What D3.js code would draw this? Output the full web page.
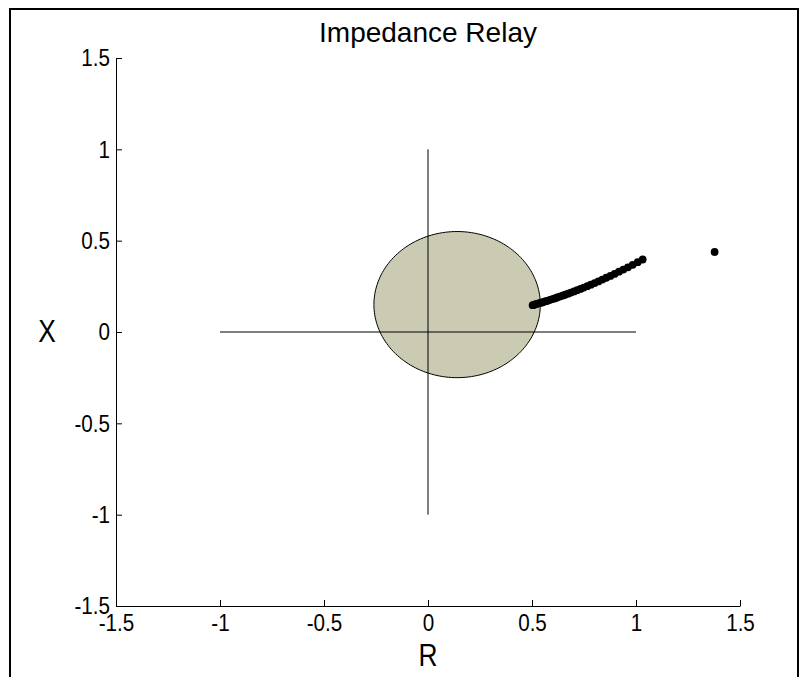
<!DOCTYPE html>
<html>
<head>
<meta charset="utf-8">
<script src="https://cdn.jsdelivr.net/npm/d3@7"></script>
<style>
  html, body { margin: 0; padding: 0; background: #fff; }
  svg { display: block; font-family: "Liberation Sans", Arial, Helvetica, sans-serif; }
</style>
</head>
<body>
<svg id="chart" width="804" height="677"></svg>
<script>
// Relay characteristic: circle centre (R, X) and radius
const relayCenter = [0.14, 0.15];
const relayRadius = 0.40;

// Apparent impedance trajectory seen by the relay
const trajR = [0.503, 0.510, 0.517, 0.524, 0.532, 0.540, 0.549, 0.558, 0.567, 0.577,
               0.587, 0.598, 0.609, 0.621, 0.633, 0.646, 0.659, 0.673, 0.687, 0.702,
               0.717, 0.733, 0.749, 0.766, 0.783, 0.801, 0.819, 0.838, 0.857, 0.877,
               0.897, 0.918, 0.939, 0.961, 0.984, 1.008, 1.032, 1.378];
const trajX = [0.147, 0.149, 0.152, 0.154, 0.157, 0.159, 0.162, 0.166, 0.169, 0.172,
               0.176, 0.180, 0.184, 0.189, 0.194, 0.199, 0.204, 0.210, 0.216, 0.222,
               0.229, 0.236, 0.243, 0.251, 0.259, 0.268, 0.277, 0.287, 0.297, 0.307,
               0.318, 0.330, 0.342, 0.354, 0.368, 0.382, 0.397, 0.438];

// Reference cross through the origin
const crossH = { r: [-1, 1], x: [0, 0] };
const crossV = { r: [0, 0], x: [-1, 1] };

const tickValues = [-1.5, -1, -0.5, 0, 0.5, 1, 1.5];
const tickLabels = ["-1.5", "-1", "-0.5", "0", "0.5", "1", "1.5"];

const svg = d3.select("#chart");

// Figure frame
svg.append("rect")
  .attr("x", 10).attr("y", 9).attr("width", 788).attr("height", 720)
  .attr("fill", "none").attr("stroke", "#000").attr("stroke-width", 2);

const plotL = 116, plotR = 740, plotT = 58, plotB = 606;
const xS = d3.scaleLinear().domain([-1.5, 1.5]).range([plotL, plotR]);
const yS = d3.scaleLinear().domain([-1.5, 1.5]).range([plotB, plotT]);

// Relay circle (drawn in data space, so it follows the axis scaling)
const circ = d3.range(0, 361, 2).map(a => {
  const t = a * Math.PI / 180;
  return [relayCenter[0] + relayRadius * Math.cos(t), relayCenter[1] + relayRadius * Math.sin(t)];
});
svg.append("path")
  .attr("d", d3.line().x(d => xS(d[0])).y(d => yS(d[1]))(circ) + "Z")
  .attr("fill", "#cbcbb3").attr("stroke", "#000").attr("stroke-width", 1);

// Cross lines
[crossH, crossV].forEach(c => {
  svg.append("line")
    .attr("x1", xS(c.r[0])).attr("x2", xS(c.r[1]))
    .attr("y1", yS(c.x[0])).attr("y2", yS(c.x[1]))
    .attr("stroke", "#000").attr("stroke-width", 1);
});

// Trajectory points
svg.append("g").selectAll("circle")
  .data(trajR.map((r, i) => [r, trajX[i]]))
  .join("circle")
  .attr("cx", d => xS(d[0])).attr("cy", d => yS(d[1]))
  .attr("r", 3.9).attr("fill", "#000");

// Axes with inward ticks
const xAxis = d3.axisBottom(xS).tickValues(tickValues)
  .tickFormat((d, i) => tickLabels[i]).tickSizeInner(-6).tickSizeOuter(0).tickPadding(6);
const yAxis = d3.axisLeft(yS).tickValues(tickValues)
  .tickFormat((d, i) => tickLabels[i]).tickSizeInner(-6).tickSizeOuter(0).tickPadding(6);

const gx = svg.append("g").attr("transform", `translate(0,${plotB})`).call(xAxis);
const gy = svg.append("g").attr("transform", `translate(${plotL},0)`).call(yAxis);
[gx, gy].forEach(g => {
  g.selectAll("text").attr("font-size", 24).attr("fill", "#000")
    .attr("font-family", "Liberation Sans, Arial, sans-serif")
    .attr("transform", "scale(0.86,1)");
  g.select(".domain").attr("stroke", "#000");
  g.selectAll(".tick line").attr("stroke", "#000");
});
gx.selectAll("text").attr("dy", "0.71em").attr("y", 8);
gy.selectAll("text").attr("x", -6 / 0.86);

// Title and axis labels (slightly condensed lettering)
function label(x, y, size, sx, txt) {
  svg.append("text")
    .attr("transform", `translate(${x},${y}) scale(${sx},1)`)
    .attr("text-anchor", "middle").attr("font-size", size).text(txt);
}
label(428, 42, 28, 1.0, "Impedance Relay");
label(428, 666, 31, 0.85, "R");
label(47, 342, 31, 0.85, "X");
</script>
</body>
</html>
